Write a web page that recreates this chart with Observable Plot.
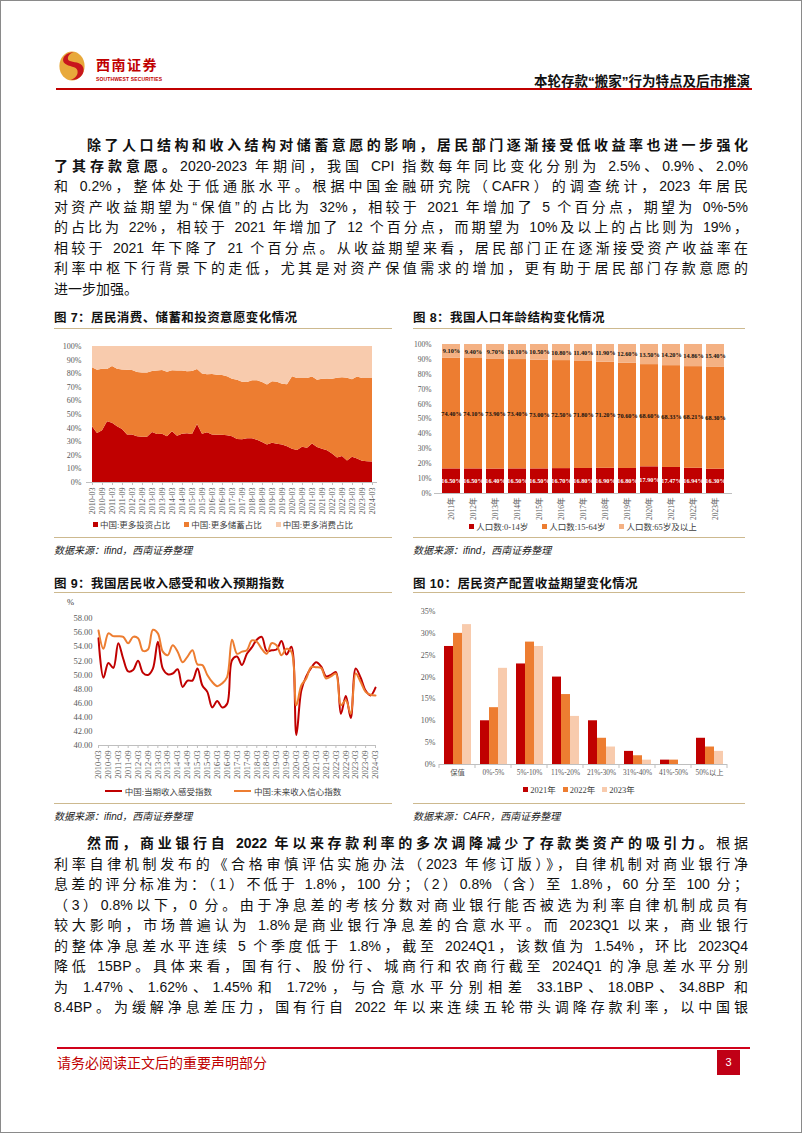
<!DOCTYPE html>
<html lang="zh-CN"><head><meta charset="utf-8"><title>本轮存款“搬家”行为特点及后市推演</title>
<script src="https://cdn.jsdelivr.net/npm/d3@7"></script>
<script src="https://cdn.jsdelivr.net/npm/@observablehq/plot@0.6"></script>
<style>
html,body{margin:0;padding:0;background:#fff;}
#page{position:relative;width:802px;height:1133px;overflow:hidden;font-family:"Liberation Sans","Noto Sans CJK SC",sans-serif;color:#111;}
.a{position:absolute;}
.frame{position:absolute;left:0;top:0;width:802px;height:1133px;box-sizing:border-box;border:1px solid #8a8a8a;pointer-events:none;}
.ln{position:absolute;left:54px;width:694px;height:20px;line-height:20px;font-size:14px;text-align:justify;text-align-last:justify;box-sizing:border-box;}
.ind{padding-left:33px;}
.last{text-align-last:left;}
b{font-weight:700;}
.ft{position:absolute;font-size:12.5px;font-weight:700;letter-spacing:0.4px;white-space:nowrap;}
.tan{position:absolute;height:0;border-top:1.5px solid #CDB98F;}
.src{position:absolute;font-size:10px;font-style:italic;color:#222;white-space:nowrap;}
.leg{position:absolute;display:flex;justify-content:center;align-items:center;gap:14px;font-family:"Liberation Serif","Noto Sans CJK SC",serif;font-size:8.5px;color:#404040;white-space:nowrap;}
.leg .it{display:flex;align-items:center;}
.leg .sw{display:inline-block;width:5px;height:5px;margin-right:2px;}
.leg .sl{display:inline-block;width:17px;height:2px;margin-right:3px;}
.chart{position:absolute;}
</style></head><body><div id="page">

<!-- header -->
<svg class="a" style="left:58px;top:50px" width="28" height="32" viewBox="0 0 30 33">
  <ellipse cx="15" cy="16.5" rx="13.5" ry="15.5" fill="#E8A93B"/>
  <path d="M17 1.5 C6 2.5 2 11 9 15 C14 18 22 17 21 24 C20.5 28 16 31 13 31.5 C24 32 29 24 27 18 C25 12 16 13 12 11 C9 9 11 3 17 1.5 Z" fill="#C8161D"/>
</svg>
<div class="a" style="left:96px;top:57px;font-size:14px;line-height:16px;font-weight:700;color:#C00000;letter-spacing:1.5px;">西南证券</div>
<div class="a" style="left:96px;top:76px;font-size:5px;line-height:6px;font-weight:700;color:#C00000;letter-spacing:0.15px;">SOUTHWEST SECURITIES</div>
<div class="a" style="left:300px;width:450px;top:70px;text-align:right;font-size:13.5px;font-weight:700;">本轮存款“搬家”行为特点及后市推演</div>
<div class="a" style="left:56px;width:696px;top:88px;height:2px;background:#C00000;"></div>

<!-- paragraph 1 -->
<div class="ln ind" style="top:135px"><b>除了人口结构和收入结构对储蓄意愿的影响，居民部门逐渐接受低收益率也进一步强化</b></div>
<div class="ln" style="top:155.5px"><b>了其存款意愿。</b>2020-2023 年期间，我国 CPI 指数每年同比变化分别为 2.5%、0.9%、2.0%</div>
<div class="ln" style="top:176px">和 0.2%，整体处于低通胀水平。根据中国金融研究院（CAFR）的调查统计，2023 年居民</div>
<div class="ln" style="top:196.5px">对资产收益期望为“保值”的占比为 32%，相较于 2021 年增加了 5 个百分点，期望为 0%-5%</div>
<div class="ln" style="top:217px">的占比为 22%，相较于 2021 年增加了 12 个百分点，而期望为 10%及以上的占比则为 19%，</div>
<div class="ln" style="top:237.5px">相较于 2021 年下降了 21 个百分点。从收益期望来看，居民部门正在逐渐接受资产收益率在</div>
<div class="ln" style="top:258px">利率中枢下行背景下的走低，尤其是对资产保值需求的增加，更有助于居民部门存款意愿的</div>
<div class="ln last" style="top:278.5px">进一步加强。</div>

<!-- figure titles -->
<div class="ft" style="left:54px;top:307px">图 7：居民消费、储蓄和投资意愿变化情况</div>
<div class="ft" style="left:413px;top:307px">图 8：我国人口年龄结构变化情况</div>
<div class="tan" style="left:54px;width:338px;top:328px"></div>
<div class="tan" style="left:413px;width:332px;top:328px"></div>

<div id="c7" class="chart" style="left:54px;top:335px"></div>
<div id="c8" class="chart" style="left:400px;top:335px"></div>
<div id="l7" class="leg" style="left:54px;width:338px;top:518px;height:12px"></div>
<div id="l8" class="leg" style="left:413px;width:340px;top:520px;height:12px"></div>
<div class="tan" style="left:54px;width:338px;top:537px"></div>
<div class="tan" style="left:413px;width:332px;top:537px"></div>
<div class="src" style="left:54px;top:542px">数据来源：ifind，西南证券整理</div>
<div class="src" style="left:413px;top:542px">数据来源：ifind，西南证券整理</div>

<div class="ft" style="left:54px;top:573px">图 9：我国居民收入感受和收入预期指数</div>
<div class="ft" style="left:413px;top:573px">图 10：居民资产配置收益期望变化情况</div>
<div class="tan" style="left:54px;width:338px;top:592px"></div>
<div class="tan" style="left:413px;width:332px;top:592px"></div>
<div class="a" style="left:67px;top:597px;font-family:'Liberation Serif',serif;font-size:8.5px;color:#404040">%</div>

<div id="c9" class="chart" style="left:54px;top:595px"></div>
<div id="c10" class="chart" style="left:405px;top:600px"></div>
<div id="l9" class="leg" style="left:54px;width:338px;top:785px;height:12px;gap:22px"></div>
<div id="l10" class="leg" style="left:413px;width:332px;top:783px;height:12px;gap:7px"></div>
<div class="tan" style="left:54px;width:338px;top:803px"></div>
<div class="tan" style="left:413px;width:332px;top:803px"></div>
<div class="src" style="left:54px;top:808px">数据来源：ifind，西南证券整理</div>
<div class="src" style="left:413px;top:808px">数据来源：CAFR，西南证券整理</div>

<!-- paragraph 2 -->
<div class="ln ind" style="top:833px"><b>然而，商业银行自 2022 年以来存款利率的多次调降减少了存款类资产的吸引力。</b>根据</div>
<div class="ln" style="top:853.5px">利率自律机制发布的《合格审慎评估实施办法（2023 年修订版）》，自律机制对商业银行净</div>
<div class="ln" style="top:874px">息差的评分标准为：（1）不低于 1.8%，100 分；（2）0.8%（含）至 1.8%，60 分至 100 分；</div>
<div class="ln" style="top:894.5px">（3）0.8%以下，0 分。由于净息差的考核分数对商业银行能否被选为利率自律机制成员有</div>
<div class="ln" style="top:915px">较大影响，市场普遍认为 1.8%是商业银行净息差的合意水平。而 2023Q1 以来，商业银行</div>
<div class="ln" style="top:935.5px">的整体净息差水平连续 5 个季度低于 1.8%，截至 2024Q1，该数值为 1.54%，环比 2023Q4</div>
<div class="ln" style="top:956px">降低 15BP。具体来看，国有行、股份行、城商行和农商行截至 2024Q1 的净息差水平分别</div>
<div class="ln" style="top:976.5px">为 1.47%、1.62%、1.45%和 1.72%，与合意水平分别相差 33.1BP、18.0BP、34.8BP 和</div>
<div class="ln" style="top:997px">8.4BP。为缓解净息差压力，国有行自 2022 年以来连续五轮带头调降存款利率，以中国银</div>

<!-- footer -->
<div class="a" style="left:57px;width:693px;top:1047px;height:2px;background:#D0021B;"></div>
<div class="a" style="left:57px;top:1052px;font-size:14px;color:#C00000;">请务必阅读正文后的重要声明部分</div>
<div class="a" style="left:717px;top:1050px;width:23px;height:25px;background:#C00016;color:#fff;font-size:11px;line-height:25px;text-align:center;">3</div>
<div class="frame"></div>
</div>

<script>
// ---------- data ----------
const quarters = ["2010-03","2010-06","2010-09","2010-12","2011-03","2011-06","2011-09","2011-12","2012-03","2012-06","2012-09","2012-12","2013-03","2013-06","2013-09","2013-12","2014-03","2014-06","2014-09","2014-12","2015-03","2015-06","2015-09","2015-12","2016-03","2016-06","2016-09","2016-12","2017-03","2017-06","2017-09","2017-12","2018-03","2018-06","2018-09","2018-12","2019-03","2019-06","2019-09","2019-12","2020-03","2020-06","2020-09","2020-12","2021-03","2021-06","2021-09","2021-12","2022-03","2022-06","2022-09","2022-12","2023-03","2023-06","2023-09","2023-12","2024-03"];
const quarterTicks = ["2010-03","2010-09","2011-03","2011-09","2012-03","2012-09","2013-03","2013-09","2014-03","2014-09","2015-03","2015-09","2016-03","2016-09","2017-03","2017-09","2018-03","2018-09","2019-03","2019-09","2020-03","2020-09","2021-03","2021-09","2022-03","2022-09","2023-03","2023-09","2024-03"];

// Figure 7
const series7 = ["中国:更多投资占比","中国:更多储蓄占比","中国:更多消费占比"];
const invest7 = [41,36,38,44.6,43.6,41,39,35,35,33.6,33.3,33.3,36.8,35.3,35.5,33.6,37.3,34,35.5,35.8,35.3,42.6,35.5,36.5,35,34.8,34.8,34.3,33.6,31.6,31.4,32.1,32.1,31.1,29.4,27.5,28.9,28.2,27.5,26.2,24.5,23.5,26,25.2,28.4,25.7,24.5,23.3,21,18.1,19.1,15.9,18.6,17.2,15.7,15.2,15];
const savings7 = [43.3,46.6,45.3,38.4,41.7,42.3,43.8,47.6,47.4,47.3,47.3,47.3,44.8,46.6,46.9,47.5,44.8,47.9,46.4,45.6,46.3,40.5,44.2,42.7,44.4,44.1,43.9,43.4,42.4,43.6,42.4,41.4,42.7,43.7,44.1,44.1,45.1,45.6,44.8,45.6,53.2,53,50.5,51.3,49.1,49.5,51.5,52.4,55,58.6,57.9,60.8,56.9,60.3,60.8,61.3,61.5];
const consume7 = [15.7,17.4,16.7,17,14.7,16.7,17.2,17.4,17.6,19.1,19.4,19.4,18.4,18.1,17.6,18.9,17.9,18.1,18.1,18.6,18.4,16.9,20.3,20.8,20.6,21.1,21.3,22.3,24,24.8,26.2,26.5,25.2,25.2,26.5,28.4,26,26.2,27.7,28.2,22.3,23.5,23.5,23.5,22.5,24.8,24,24.3,24,23.3,23,23.3,24.5,22.5,23.5,23.5,23.5];
const pctTicks100 = [0,10,20,30,40,50,60,70,80,90,100];

// Figure 8
const years8 = ["2011年","2012年","2013年","2014年","2015年","2016年","2017年","2018年","2019年","2020年","2021年","2022年","2023年"];
const groups8 = ["人口数:0-14岁","人口数:15-64岁","人口数:65岁及以上"];
const young8 = [16.5,16.5,16.4,16.5,16.5,16.7,16.8,16.9,16.8,17.9,17.47,16.94,16.3];
const work8 = [74.4,74.1,73.9,73.4,73.0,72.5,71.8,71.2,70.6,68.6,68.33,68.21,68.3];
const old8 = [9.1,9.4,9.7,10.1,10.5,10.8,11.4,11.9,12.6,13.5,14.2,14.86,15.4];

// Figure 9
const series9 = ["中国:当期收入感受指数","中国:未来收入信心指数"];
const current9 = [55.2,49.6,51.7,51.0,54.5,52.3,50.5,50.7,52.0,50.3,50.0,50.9,54.7,50.9,50.1,50.2,50.8,48.3,49.2,49.2,50.9,48.5,47.6,45.4,46.3,45.4,45.9,52.1,52.6,51.4,53.0,53.9,55.0,55.4,53.4,53.5,53.6,54.8,52.9,54.0,41.5,47.8,49.8,51.0,51.8,51.2,49.8,50.0,50.4,44.5,47.0,43.9,50.9,49.6,47.8,47.1,48.2];
const future9 = [56.3,53.7,55.9,55.5,55.5,55.4,54.5,55.4,55.2,53.4,53.6,56.4,55.9,53.3,52.8,54.2,53.3,51.8,52.6,53.5,51.5,51.4,50.0,49.0,48.4,48.8,49.7,55.0,53.0,53.3,53.5,54.9,54.7,53.7,53.0,54.5,54.2,52.8,53.7,53.3,45.7,48.5,49.5,51.1,51.1,51.0,49.5,49.8,50.2,45.7,46.4,44.5,50.2,49.0,47.6,47.2,47.1];
const ticks9 = [40,42,44,46,48,50,52,54,56,58];

// Figure 10
const cats10 = ["保值","0%-5%","5%-10%","11%-20%","21%-30%","31%-40%","41%-50%","50%以上"];
const years10 = ["2021年","2022年","2023年"];
const v2021 = [27,10,23,20,10,3,1,6];
const v2022 = [30,13,28,16,6,2,1,4];
const v2023 = [32,22,27,11,4,1,0,3];
const ticks10 = [0,5,10,15,20,25,30,35];

// ---------- styles ----------
const RED = "#C00000", ORANGE = "#ED7D31", PEACH = "#F8CBAD", PEACH2 = "#F4B183";
const serif = '"Liberation Serif","Noto Sans CJK SC",serif';
const baseStyle = (fs) => ({fontFamily: serif, fontSize: fs, color: "#595959", background: "transparent", overflow: "visible"});

// ---------- Figure 7 ----------
const long7 = [];
quarters.forEach((q, i) => {
  long7.push({q, s: series7[0], v: invest7[i]});
  long7.push({q, s: series7[1], v: savings7[i]});
  long7.push({q, s: series7[2], v: consume7[i]});
});
const p7 = Plot.plot({
  width: 338, height: 185, marginTop: 11, marginBottom: 38, marginLeft: 32, marginRight: 15,
  style: baseStyle("8px"),
  x: {type: "point", domain: quarters, padding: 0},
  y: {domain: [0, 100]},
  color: {domain: series7, range: [RED, ORANGE, PEACH]},
  marks: [
    Plot.areaY(long7, {x: "q", y: "v", fill: "s", z: "s", order: series7}),
    Plot.ruleY([0], {stroke: "#BFBFBF"}),
    Plot.axisX({ticks: quarterTicks, tickRotate: -90, tickSize: 3, tickPadding: 2, stroke: "#BFBFBF", label: null}),
    Plot.axisY({ticks: pctTicks100, tickFormat: d => d + "%", tickSize: 0, tickPadding: 5, label: null})
  ]
});
document.getElementById("c7").append(p7);

// ---------- Figure 8 ----------
const long8 = [];
years8.forEach((y, i) => {
  long8.push({year: y, g: groups8[0], v: young8[i]});
  long8.push({year: y, g: groups8[1], v: work8[i]});
  long8.push({year: y, g: groups8[2], v: old8[i]});
});
const lab8 = d => d.v.toFixed(2) + "%";
const p8 = Plot.plot({
  width: 350, height: 187, marginTop: 9, marginBottom: 29, marginLeft: 34, marginRight: 18,
  style: baseStyle("7.5px"),
  x: {domain: years8, paddingInner: 0.17, paddingOuter: 0.13},
  y: {domain: [0, 100]},
  color: {domain: groups8, range: [RED, ORANGE, PEACH2]},
  marks: [
    Plot.barY(long8, {x: "year", y: "v", fill: "g", order: groups8}),
    Plot.text(long8, Plot.stackY({x: "year", y: "v", z: "g", order: groups8, text: d => d.g === groups8[0] ? lab8(d) : "", fill: "#fff", fontWeight: "bold", fontSize: 6.3})),
    Plot.text(long8, Plot.stackY({x: "year", y: "v", z: "g", order: groups8, text: d => d.g !== groups8[0] ? lab8(d) : "", fill: "#111", fontWeight: "bold", fontSize: 6.3})),
    Plot.ruleY([0], {stroke: "#BFBFBF"}),
    Plot.axisX({tickRotate: -90, tickSize: 0, tickPadding: 4, label: null}),
    Plot.axisY({ticks: pctTicks100, tickFormat: d => d + "%", tickSize: 0, tickPadding: 3, label: null})
  ]
});
document.getElementById("c8").append(p8);

// ---------- Figure 9 ----------
const long9 = [];
quarters.forEach((q, i) => {
  long9.push({q, s: series9[0], v: current9[i]});
});
quarters.forEach((q, i) => {
  long9.push({q, s: series9[1], v: future9[i]});
});
const p9 = Plot.plot({
  width: 338, height: 187, marginTop: 23, marginBottom: 37, marginLeft: 44, marginRight: 17,
  style: baseStyle("8.5px"),
  x: {type: "point", domain: quarters, padding: 0},
  y: {domain: [40, 58]},
  color: {domain: series9, range: [RED, ORANGE]},
  marks: [
    Plot.ruleY([40], {stroke: "#BFBFBF"}),
    Plot.lineY(long9, {x: "q", y: "v", stroke: "s", z: "s", strokeWidth: 2, curve: "catmull-rom"}),
    Plot.axisX({ticks: quarterTicks, tickRotate: -90, tickSize: 3, tickPadding: 2, stroke: "#BFBFBF", label: null}),
    Plot.axisY({ticks: ticks9, tickFormat: d => d.toFixed(2), tickSize: 0, tickPadding: 6, label: null})
  ]
});
document.getElementById("c9").append(p9);

// ---------- Figure 10 ----------
const long10 = [];
cats10.forEach((c, i) => {
  long10.push({cat: c, year: years10[0], v: v2021[i]});
  long10.push({cat: c, year: years10[1], v: v2022[i]});
  long10.push({cat: c, year: years10[2], v: v2023[i]});
});
const p10 = Plot.plot({
  width: 345, height: 180, marginTop: 11, marginBottom: 16, marginLeft: 30, marginRight: 20,
  style: baseStyle("7.3px"),
  fx: {domain: cats10, padding: 0, label: null},
  x: {domain: years10, paddingInner: 0, paddingOuter: 0.47, axis: null},
  y: {domain: [0, 35]},
  color: {domain: years10, range: [RED, ORANGE, PEACH]},
  marks: [
    Plot.barY(long10, {fx: "cat", x: "year", y: "v", fill: "year"}),
    Plot.ruleY([0], {stroke: "#BFBFBF"}),
    Plot.axisFx({anchor: "bottom", tickSize: 0, tickPadding: 5, label: null, fontSize: 7.3}),
    Plot.axisY({ticks: ticks10, tickFormat: d => d + "%", tickSize: 0, tickPadding: 4, label: null, fontSize: 8})
  ]
});
document.getElementById("c10").append(p10);
// boundary ticks on the category axis
(function () {
  const fx = p10.scale("fx");
  const y0 = 180 - 16;
  const g = d3.select(p10).append("g").attr("stroke", "#BFBFBF");
  const edges = cats10.map(c => fx.apply(c));
  edges.push(fx.apply(cats10[cats10.length - 1]) + fx.bandwidth);
  edges.forEach(x => g.append("line").attr("x1", x).attr("x2", x).attr("y1", y0).attr("y2", y0 + 4));
})();

// ---------- legends ----------
function squareLegend(id, names, colors) {
  const el = document.getElementById(id);
  names.forEach((n, i) => {
    const it = document.createElement("div"); it.className = "it";
    const sw = document.createElement("span"); sw.className = "sw"; sw.style.background = colors[i];
    it.append(sw, document.createTextNode(n)); el.append(it);
  });
}
function lineLegend(id, names, colors) {
  const el = document.getElementById(id);
  names.forEach((n, i) => {
    const it = document.createElement("div"); it.className = "it";
    const sw = document.createElement("span"); sw.className = "sl"; sw.style.background = colors[i];
    it.append(sw, document.createTextNode(n)); el.append(it);
  });
}
squareLegend("l7", series7, [RED, ORANGE, PEACH]);
squareLegend("l8", groups8, [RED, ORANGE, PEACH2]);
lineLegend("l9", series9, [RED, ORANGE]);
squareLegend("l10", years10, [RED, ORANGE, PEACH]);
</script>
</body></html>
